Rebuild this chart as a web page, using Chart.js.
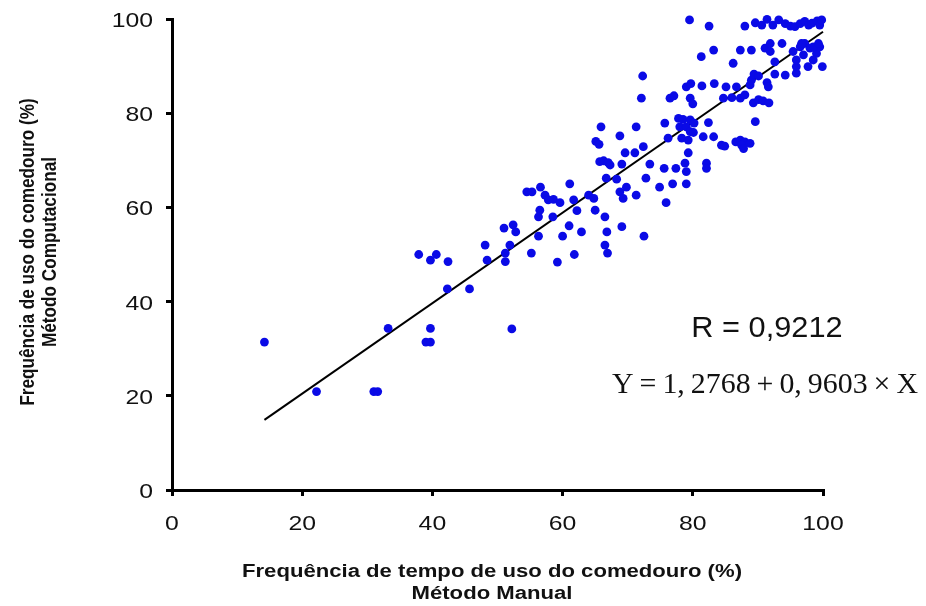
<!DOCTYPE html>
<html>
<head>
<meta charset="utf-8">
<script src="https://cdn.jsdelivr.net/npm/chart.js@4.4.0/dist/chart.umd.min.js"></script>
<style>
  html, body { margin: 0; padding: 0; background: #fff; }
  #wrap { width: 926px; height: 606px; }
</style>
</head>
<body>
<div id="wrap"><canvas id="scatterChart" width="926" height="606"></canvas></div>
<script>
// Manual method (x) vs computational method (y), % of feeder use time
const manualX = [
  14.2, 22.2, 31.0, 31.6, 33.2, 39.0, 39.7, 39.7, 37.9, 39.7, 40.6, 42.4, 42.3, 45.7,
  48.1, 48.4, 51.2, 51.2, 51.9, 52.2, 52.8, 55.2, 56.3, 59.2, 60.0, 61.8, 62.9, 66.5,
  66.9, 66.8, 69.1, 72.5, 51.0, 52.4, 61.0, 54.5, 55.3, 56.6, 61.1, 57.3, 57.8, 58.6,
  59.6, 61.7, 64.0, 64.8, 62.2, 65.0, 56.5, 56.3, 58.5, 66.5, 65.7, 68.8, 69.3, 69.8,
  71.3, 74.9, 76.9, 79.0, 75.9, 68.3, 72.8, 66.7, 66.3, 67.0, 67.3, 69.1, 73.4, 75.6,
  77.4, 78.8, 79.0, 69.6, 71.1, 72.4, 79.3, 65.9, 71.3, 65.1, 65.6, 68.8, 75.7, 77.8,
  78.5, 79.6, 80.2, 78.0, 79.0, 79.6, 78.3, 79.3, 80.1, 76.2, 82.4, 81.6, 83.2, 84.4,
  84.9, 86.6, 87.3, 88.0, 88.8, 87.5, 87.8, 82.1, 82.1, 89.6, 72.1, 76.5, 77.1, 79.0,
  79.7, 79.6, 80.0, 72.3, 81.4, 83.3, 85.1, 86.7, 88.8, 89.0, 91.4, 91.6, 84.7, 86.0,
  87.3, 88.0, 89.3, 90.1, 90.8, 91.7, 89.4, 90.1, 92.6, 94.2, 95.9, 86.2, 92.6, 95.9,
  97.7, 99.9, 81.3, 83.2, 87.3, 89.0, 91.1, 91.9, 91.9, 93.7, 95.4, 96.5, 97.2, 98.0,
  99.0, 98.5, 97.0, 95.9, 99.5, 79.5, 82.5, 88.0, 89.6, 90.6, 91.4, 92.3, 93.2, 94.2,
  95.0, 95.7, 96.5, 97.2, 97.8, 98.3, 99.1, 99.5, 99.8, 96.7, 98.5, 99.3
];
const computacionalY = [
  31.4, 20.9, 20.9, 20.9, 34.3, 31.4, 31.4, 34.3, 50.0, 48.8, 50.0, 48.5, 42.7, 42.7,
  52.0, 48.8, 48.5, 50.3, 52.0, 34.2, 54.8, 50.3, 53.9, 48.4, 53.9, 50.0, 54.8, 52.0,
  50.3, 54.8, 55.9, 53.9, 55.6, 56.3, 56.1, 63.3, 63.3, 64.3, 65.0, 62.6, 61.6, 61.7,
  61.0, 61.6, 62.6, 61.9, 59.3, 59.4, 59.4, 58.0, 58.0, 58.0, 69.7, 63.3, 61.9, 64.3,
  62.6, 64.3, 65.0, 65.0, 61.0, 66.0, 66.2, 66.2, 69.9, 69.5, 69.0, 69.2, 69.2, 68.3,
  68.3, 69.4, 67.6, 71.6, 71.6, 72.9, 71.6, 77.1, 77.1, 74.0, 73.4, 75.2, 77.9, 78.9,
  78.7, 78.6, 77.9, 77.1, 77.1, 76.1, 74.7, 74.3, 75.9, 74.7, 78.0, 75.0, 75.0, 73.2,
  73.0, 73.9, 74.3, 73.9, 73.6, 73.2, 72.5, 69.4, 68.3, 78.2, 83.2, 83.2, 83.7, 85.6,
  86.3, 83.2, 82.0, 87.9, 85.8, 86.3, 85.6, 85.6, 86.0, 87.0, 86.5, 85.6, 83.2, 83.3,
  83.2, 83.9, 82.2, 82.9, 82.6, 82.2, 88.3, 87.9, 88.3, 88.1, 88.5, 90.6, 90.9, 89.9,
  89.9, 89.9, 92.0, 93.4, 93.4, 93.4, 93.8, 93.1, 94.8, 94.8, 93.1, 94.1, 94.8, 93.8,
  92.7, 91.3, 92.4, 91.3, 94.1, 99.8, 98.5, 98.5, 99.2, 98.7, 99.9, 98.7, 99.8, 99.0,
  98.5, 98.4, 99.0, 99.5, 98.7, 99.1, 99.6, 98.7, 99.8, 94.8, 94.1, 94.8
];

// fitted line Y = 1.2768 + 0.9603 X, end points
const fitX = [14.2, 100];
const fitY = [14.9, 97.3];

const axisTicks = [0, 20, 40, 60, 80, 100];
const xTitle = ["Frequência de tempo de uso do comedouro (%)", "Método Manual"];
const yTitle = ["Frequência de uso do comedouro (%)", "Método Computacional"];
const rLabel = "R = 0,9212";
const eqLabel = "Y\u2009=\u20091,\u20092768\u2009+\u20090,\u20099603\u2009×\u2009X";

const scatterPoints = manualX.map((x, i) => ({ x: x, y: computacionalY[i] }));
const fitPoints = fitX.map((x, i) => ({ x: x, y: fitY[i] }));

// draw text widened horizontally (the original figure is stretched sideways)
function wideText(ctx, text, x, y, font, sx, align) {
  ctx.save();
  ctx.font = font;
  ctx.textAlign = align;
  ctx.textBaseline = 'alphabetic';
  ctx.translate(x, y);
  ctx.scale(sx, 1);
  ctx.fillText(text, 0, 0);
  ctx.restore();
}

const labelsPlugin = {
  id: 'labelsPlugin',
  afterDraw(chart) {
    const ctx = chart.ctx;
    const xs = chart.scales.x;
    const ys = chart.scales.y;
    ctx.fillStyle = '#111';

    // tick labels
    const tickFont = '21px "Liberation Sans", Arial, sans-serif';
    axisTicks.forEach(v => {
      wideText(ctx, String(v), xs.getPixelForValue(v), 530, tickFont, 1.18, 'center');
      wideText(ctx, String(v), 153, ys.getPixelForValue(v) + 8, tickFont, 1.18, 'right');
    });

    // x axis title
    const titleFont = 'bold 17.5px "Liberation Sans", Arial, sans-serif';
    ctx.font = titleFont;
    const sx = 500 / ctx.measureText(xTitle[0]).width;
    wideText(ctx, xTitle[0], 492, 577, titleFont, sx, 'center');
    wideText(ctx, xTitle[1], 492, 599, titleFont, sx, 'center');

    // y axis title (rotated)
    ctx.save();
    ctx.font = 'bold 17.2px "Liberation Sans", Arial, sans-serif';
    ctx.textAlign = 'center';
    ctx.textBaseline = 'alphabetic';
    ctx.translate(34, 252);
    ctx.rotate(-Math.PI / 2);
    ctx.scale(1, 1.2);
    ctx.fillText(yTitle[0], 0, 0);
    ctx.fillText(yTitle[1], 0, 18);
    ctx.restore();

    // annotations
    wideText(ctx, rLabel, 767, 337, '29px "Liberation Sans", Arial, sans-serif', 1.06, 'center');
    const eqFont = '30px "Liberation Serif", "Times New Roman", serif';
    ctx.font = eqFont;
    const eqScale = 306 / ctx.measureText(eqLabel).width;
    wideText(ctx, eqLabel, 612, 393, eqFont, eqScale, 'left');
  }
};

const axisStyle = {
  type: 'linear',
  min: 0,
  max: 100,
  ticks: { stepSize: 20, display: false },
  grid: { drawOnChartArea: false, drawTicks: true, tickLength: 6, color: '#000', lineWidth: 3 },
  border: { display: true, color: '#000', width: 3 }
};

new Chart(document.getElementById('scatterChart'), {
  type: 'scatter',
  data: {
    datasets: [
      {
        label: 'Dados',
        data: scatterPoints,
        backgroundColor: '#0a0ae6',
        borderWidth: 0,
        pointRadius: 4.4,
        clip: false
      },
      {
        label: 'Ajuste',
        data: fitPoints,
        showLine: true,
        borderColor: '#000',
        borderWidth: 2,
        pointRadius: 0,
        clip: false
      }
    ]
  },
  options: {
    responsive: false,
    animation: false,
    layout: { padding: { left: 0, right: 103, top: 19, bottom: 0 } },
    plugins: {
      legend: { display: false },
      tooltip: { enabled: false }
    },
    scales: {
      x: Object.assign({}, axisStyle, { afterFit(s) { s.height = 116; } }),
      y: Object.assign({}, axisStyle, { afterFit(s) { s.width = 172; } })
    }
  },
  plugins: [labelsPlugin]
});
</script>
</body>
</html>
